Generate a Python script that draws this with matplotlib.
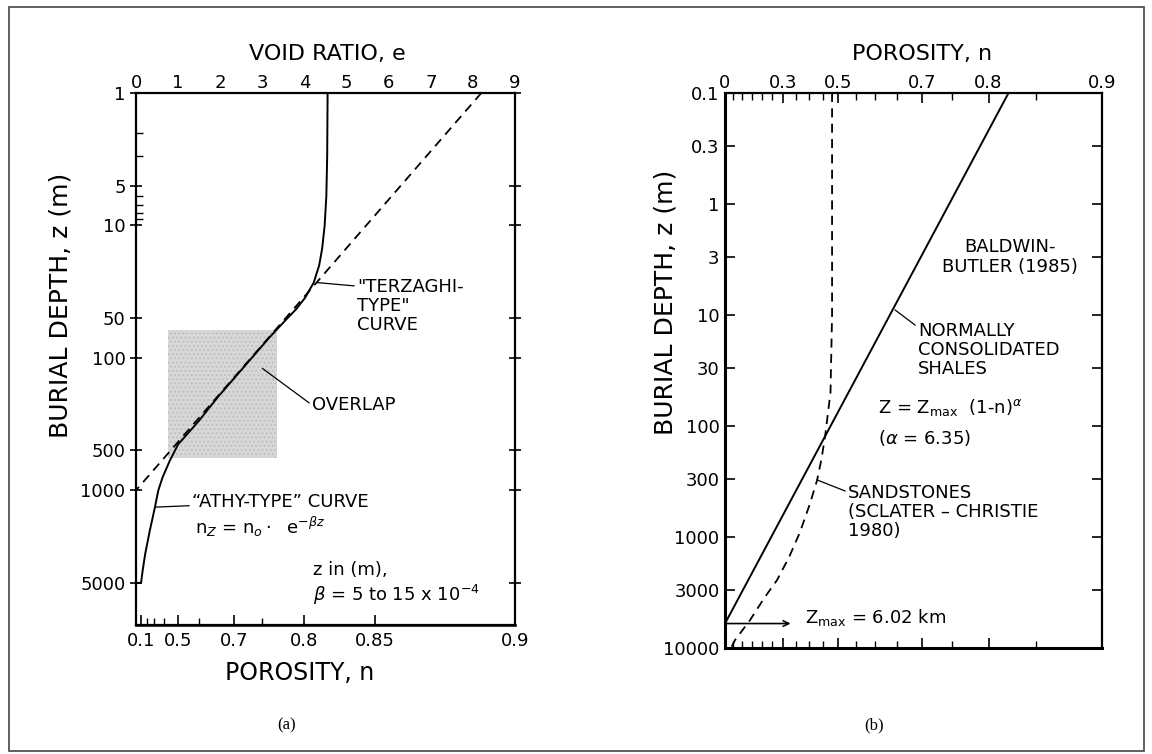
import numpy as np
import matplotlib.pyplot as plt
from matplotlib.patches import Rectangle
from matplotlib.ticker import NullFormatter, NullLocator

plt.rcParams['font.family'] = ['DejaVu Sans']
plt.rcParams['mathtext.fontset'] = 'dejavusans'

W, H = 1152, 754

# ---- panel (a): void ratio / porosity against burial depth ----
e_ticks = [0, 1, 2, 3, 4, 5, 6, 7, 8, 9]
n_ticks_a = [0.1, 0.5, 0.7, 0.8, 0.85, 0.9]
n_labels_a = ['0.1', '0.5', '0.7', '0.8', '0.85', '0.9']
n_minor_a = [0.2, 0.3, 0.4, 0.6, 0.75]
z_ticks_a = [1, 5, 10, 50, 100, 500, 1000, 5000]
z_minor_a = [2, 3, 6, 7, 8, 9]

terzaghi_z = [1, 1000]
terzaghi_e = [8.2, 0.0]

athy_z = [1, 3, 6, 10, 15, 20, 27, 35, 43, 50, 70, 100, 200, 300, 450,
          600, 800, 1000, 1340, 2000, 3000, 4000, 5000, 5000]
athy_e = [4.55, 4.54, 4.52, 4.48, 4.42, 4.35, 4.22, 4.02, 3.8, 3.6, 3.17,
          2.75, 1.93, 1.49, 1.0, 0.8, 0.63, 0.53, 0.45, 0.33, 0.22, 0.16,
          0.12, 0.0]

overlap_e = [0.75, 3.35]
overlap_z = [62, 575]

# ---- panel (b): porosity against burial depth ----
n_ticks_b = [0, 0.3, 0.5, 0.7, 0.8, 0.9]
n_labels_b = ['0', '0.3', '0.5', '0.7', '0.8', '0.9']
n_minor_b = [0.05, 0.1, 0.15, 0.2, 0.25, 0.35, 0.4, 0.45, 0.55, 0.6, 0.65,
             0.75, 0.85]
z_ticks_b = [0.1, 0.3, 1, 3, 10, 30, 100, 300, 1000, 3000, 10000]
z_labels_b = ['0.1', '0.3', '1', '3', '10', '30', '100', '300', '1000',
              '3000', '10000']

shale_n = [0.0, 0.823]
shale_z = [6020, 0.1]

sand_z = [0.1, 1, 10, 50, 126, 200, 309, 500, 910, 1500, 2450, 3500, 5600,
          8500, 10000]
sand_n = [0.48, 0.48, 0.48, 0.475, 0.457, 0.445, 0.43, 0.405, 0.367, 0.325,
          0.272, 0.215, 0.142, 0.059, 0.036]

z_max = 6020
arrow_n = 0.33


def px(x, y):
    # image pixel (from top-left) -> figure fraction
    return (x / W, 1 - y / H)


fig = plt.figure(figsize=(W / 100, H / 100), dpi=100)

# ================= (a) =================
ax1 = fig.add_axes([136 / W, 1 - 625 / H, (515 - 136) / W, (625 - 93) / H])
ax1.fill_between(overlap_e, overlap_z[0], overlap_z[1], facecolor='#d8d8d8',
                 edgecolor='#c0c0c0', hatch='....', lw=0)
ax1.plot(terzaghi_e, terzaghi_z, 'k--', dashes=(5, 3.5), lw=1.3)
ax1.plot(athy_e, athy_z, 'k-', lw=1.4)
ax1.set_yscale('log')
ax1.set_ylim(10400, 1)
ax1.set_xlim(0, 9)

ax1.xaxis.tick_top()
ax1.set_xticks(e_ticks)
ax1.tick_params(axis='x', length=0, pad=1, labelsize=13)
ax1.set_yticks(z_ticks_a, labels=[str(z) for z in z_ticks_a])
ax1.set_yticks(z_minor_a, minor=True)
ax1.yaxis.set_minor_formatter(NullFormatter())
ax1.tick_params(axis='y', which='major', direction='inout', length=9,
                width=1.2, right=True, labelsize=13, pad=3)
ax1.tick_params(axis='y', which='minor', direction='in', length=5, width=1.0)

sec = ax1.secondary_xaxis('bottom', functions=(
    lambda e: e / (1 + e), lambda n: n / (1 - np.clip(n, None, 0.999))))
sec.set_xticks(n_ticks_a, labels=n_labels_a)
sec.set_xticks(n_minor_a, minor=True)
sec.tick_params(which='major', direction='in', length=7, width=1.2,
                labelsize=13, pad=5)
sec.tick_params(which='minor', direction='in', length=5, width=1.0)
for s in ax1.spines.values():
    s.set_linewidth(1.6)
sec.spines['bottom'].set_linewidth(1.8)

fig.text(*px(327, 54), 'VOID RATIO, e', ha='center', va='center', fontsize=16)
fig.text(*px(300, 673), 'POROSITY, n', ha='center', va='center', fontsize=17)
fig.text(*px(61, 305), 'BURIAL DEPTH, z (m)', ha='center', va='center',
         rotation=90, fontsize=18)

lead = dict(arrowstyle='-', lw=0.9, color='k', shrinkA=0, shrinkB=0)
ax1.annotate('"TERZAGHI-\nTYPE"\nCURVE', xy=(4.29, 27), xycoords='data',
             xytext=px(357, 306), textcoords='figure fraction',
             ha='left', va='center', fontsize=13, linespacing=1.1,
             arrowprops=dict(lead, relpos=(0, 0.85)))
ax1.annotate('OVERLAP', xy=(3.0, 120), xycoords='data',
             xytext=px(312, 405), textcoords='figure fraction',
             ha='left', va='center', fontsize=13,
             arrowprops=dict(lead, relpos=(0, 0.5)))
ax1.annotate('\u201cATHY-TYPE\u201d CURVE', xy=(0.45, 1340), xycoords='data',
             xytext=px(192, 502), textcoords='figure fraction',
             ha='left', va='center', fontsize=13,
             arrowprops=dict(lead, relpos=(0, 0.3)))
fig.text(*px(195, 527), r'n$_Z$ = n$_o\cdot$  e$^{-\beta z}$', ha='left',
         va='center', fontsize=13)
fig.text(*px(313, 570), 'z in (m),', ha='left', va='center', fontsize=13)
fig.text(*px(313, 595), r'$\beta$ = 5 to 15 x 10$^{-4}$', ha='left',
         va='center', fontsize=13)

# ================= (b) =================
ax2 = fig.add_axes([725 / W, 1 - 648 / H, (1102 - 725) / W, (648 - 93) / H])
ax2.set_xscale('function', functions=(
    lambda n: -np.log(1 - np.clip(n, None, 0.9999)),
    lambda u: 1 - np.exp(-u)))
ax2.set_yscale('log')
ax2.set_xlim(0, 0.9)
ax2.set_ylim(10000, 0.1)
ax2.plot(shale_n, shale_z, 'k-', lw=1.4)
ax2.plot(sand_n, sand_z, 'k--', dashes=(5, 3.5), lw=1.3)

ax2.set_xticks(n_ticks_b, labels=n_labels_b)
ax2.set_xticks(n_minor_b, minor=True)
ax2.xaxis.set_minor_formatter(NullFormatter())
ax2.tick_params(axis='x', which='both', top=True, bottom=True, labeltop=True,
                labelbottom=False, direction='in')
ax2.tick_params(axis='x', which='major', length=7, width=1.2, labelsize=13,
                pad=1)
ax2.tick_params(axis='x', which='minor', length=5, width=1.0)
ax2.set_yticks(z_ticks_b, labels=z_labels_b)
ax2.yaxis.set_minor_locator(NullLocator())
ax2.tick_params(axis='y', direction='in', length=7, width=1.2, right=True,
                labelsize=13, pad=4)
for s in ax2.spines.values():
    s.set_linewidth(1.6)
ax2.spines['left'].set_linewidth(2.2)
ax2.spines['bottom'].set_linewidth(2.2)

fig.text(*px(922, 54), 'POROSITY, n', ha='center', va='center', fontsize=16)
fig.text(*px(666, 302), 'BURIAL DEPTH, z (m)', ha='center', va='center',
         rotation=90, fontsize=18)

fig.text(*px(1010, 257), 'BALDWIN-\nBUTLER (1985)', ha='center', va='center',
         fontsize=13, linespacing=1.1)
ax2.annotate('NORMALLY\nCONSOLIDATED\nSHALES', xy=(0.646, 9),
             xycoords='data', xytext=px(918, 350),
             textcoords='figure fraction', ha='left', va='center',
             fontsize=13, linespacing=1.1,
             arrowprops=dict(lead, relpos=(0, 0.9)))
fig.text(*px(878, 408), r'Z = Z$_{\mathrm{max}}$  (1-n)$^{\alpha}$', ha='left',
         va='center', fontsize=13)
fig.text(*px(878, 438), r'($\alpha$ = 6.35)', ha='left', va='center',
         fontsize=13)
ax2.annotate('SANDSTONES\n(SCLATER \u2013 CHRISTIE\n1980)', xy=(0.43, 306),
             xycoords='data', xytext=px(848, 512),
             textcoords='figure fraction', ha='left', va='center',
             fontsize=13, linespacing=1.1,
             arrowprops=dict(lead, relpos=(0, 0.85)))
ax2.annotate('', xy=(arrow_n, z_max), xytext=(0, z_max),
             arrowprops=dict(arrowstyle='->', lw=1.2, color='k',
                             shrinkA=0, shrinkB=0))
fig.text(*px(805, 617), r'Z$_{\mathrm{max}}$ = 6.02 km', ha='left',
         va='center', fontsize=13)

# captions and frame
fig.text(*px(287, 725), '(a)', ha='center', va='center', fontsize=12,
         family='Liberation Serif')
fig.text(*px(874, 725), '(b)', ha='center', va='center', fontsize=12,
         family='Liberation Serif')
fig.add_artist(Rectangle(px(9, 751), (1144 - 9) / W, (751 - 7) / H,
                         transform=fig.transFigure, fill=False, lw=1.2,
                         ec='#444444'))

fig.savefig('out.png', dpi=100)
